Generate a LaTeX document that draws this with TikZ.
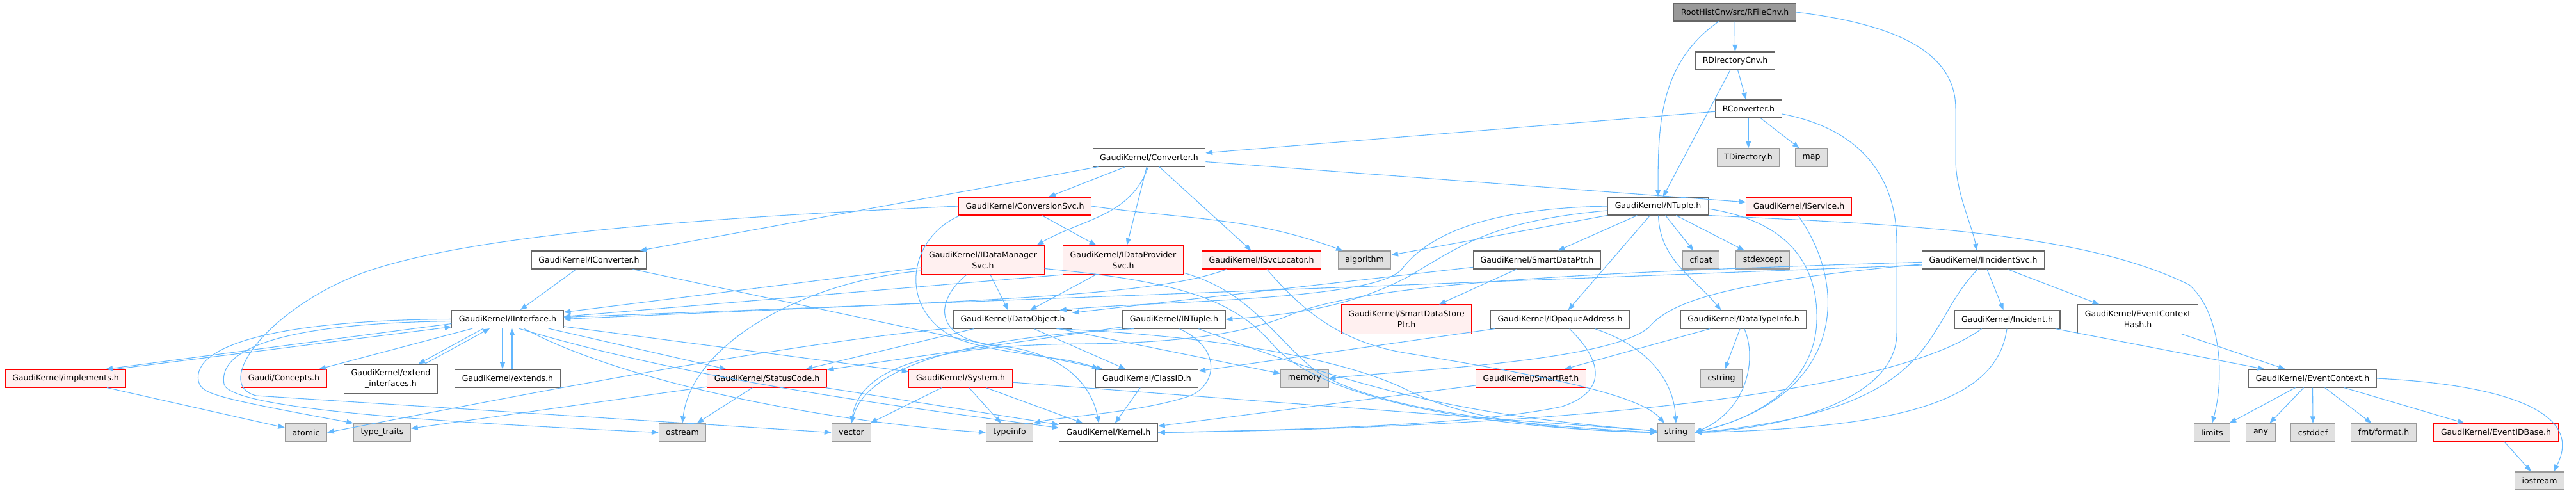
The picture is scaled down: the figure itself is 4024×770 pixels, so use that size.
\documentclass[tikz,border=0pt]{standalone}
\usepackage{fontspec}
\setmainfont{DejaVu Sans}
\usepackage{tikz}
\usetikzlibrary{arrows.meta,calc}
\definecolor{edgeblue}{HTML}{63B8FF}
\definecolor{boxgray}{HTML}{666666}
\definecolor{sysgray}{HTML}{999999}
\definecolor{sysfill}{HTML}{E0E0E0}
\definecolor{cutfill}{HTML}{FFF0F0}

\begin{document}
\begin{tikzpicture}[x=0.75pt,y=-0.75pt,>={Triangle[length=8pt,width=6pt]},
  file/.style={draw=boxgray,fill=white,line width=0.8pt,inner xsep=8.3pt,inner ysep=0pt,
    minimum height=21pt,align=center,font=\fontsize{9.4}{12.5}\selectfont},
  rootfile/.style={file,fill=sysgray},
  sysfile/.style={file,draw=sysgray,fill=sysfill},
  cutfile/.style={file,draw=red,fill=cutfill},
  twoline/.style={minimum height=33.8pt},
  dep/.style={->,draw=edgeblue,line width=0.8pt}]
 \useasboundingbox (0,0) rectangle (4024,770);

 \node[rootfile] (root) at (2710,19) {RootHistCnv/src/RFileCnv.h};
 \node[file] (rdir) at (2710.5,95) {RDirectoryCnv.h};
 \node[file] (rconv) at (2731.5,170) {RConverter.h};
 \node[sysfile] (tdir) at (2731,246) {TDirectory.h};
 \node[sysfile] (map) at (2829.5,246) {map};
 \node[file] (conv) at (1795,246) {GaudiKernel/Converter.h};
 \node[cutfile] (convsvc) at (1601,322) {GaudiKernel/ConversionSvc.h};
 \node[file] (ntuple) at (2590,322) {GaudiKernel/NTuple.h};
 \node[cutfile] (iservice) at (2810,322) {GaudiKernel/IService.h};
 \node[file] (iconverter) at (920,406) {GaudiKernel/IConverter.h};
 \node[cutfile,twoline] (idms) at (1535.5,406) {GaudiKernel/IDataManager\\Svc.h};
 \node[cutfile,twoline] (idps) at (1754.5,406) {GaudiKernel/IDataProvider\\Svc.h};
 \node[cutfile] (isvcloc) at (1970.5,406) {GaudiKernel/ISvcLocator.h};
 \node[sysfile] (algorithm) at (2131.5,406) {algorithm};
 \node[file] (sdptr) at (2401,406) {GaudiKernel/SmartDataPtr.h};
 \node[sysfile] (cfloat) at (2657,406) {cfloat};
 \node[sysfile] (stdexcept) at (2753.5,406) {stdexcept};
 \node[file] (iincsvc) at (3098,406) {GaudiKernel/IIncidentSvc.h};
 \node[file] (iinterface) at (793,498.5) {GaudiKernel/IInterface.h};
 \node[file] (dataobj) at (1582,499) {GaudiKernel/DataObject.h};
 \node[file] (intuple) at (1834,499) {GaudiKernel/INTuple.h};
 \node[cutfile,twoline] (sdsptr) at (2197,498.5) {GaudiKernel/SmartDataStore\\Ptr.h};
 \node[file] (iopaque) at (2437,499) {GaudiKernel/IOpaqueAddress.h};
 \node[file] (dtinfo) at (2723.5,499) {GaudiKernel/DataTypeInfo.h};
 \node[file] (incident) at (3135.5,499) {GaudiKernel/Incident.h};
 \node[file,twoline] (echash) at (3339.5,498.5) {GaudiKernel/EventContext\\Hash.h};
 \node[cutfile] (implements) at (102.5,591) {GaudiKernel/implements.h};
 \node[cutfile] (concepts) at (443.5,591) {Gaudi/Concepts.h};
 \node[file,twoline] (extif) at (610.5,591.5) {GaudiKernel/extend\\\_interfaces.h};
 \node[file] (extends) at (793,591) {GaudiKernel/extends.h};
 \node[cutfile] (statuscode) at (1198,591) {GaudiKernel/StatusCode.h};
 \node[cutfile] (system) at (1500.5,591) {GaudiKernel/System.h};
 \node[file] (classid) at (1791.5,591) {GaudiKernel/ClassID.h};
 \node[sysfile] (memory) at (2038,591) {memory};
 \node[cutfile] (smartref) at (2391.5,591) {GaudiKernel/SmartRef.h};
 \node[sysfile] (cstring) at (2689,591) {cstring};
 \node[file] (eventctx) at (3612.5,591) {GaudiKernel/EventContext.h};
 \node[sysfile] (atomic) at (478,675.5) {atomic};
 \node[sysfile] (typetraits) at (597,675.5) {type\_traits};
 \node[sysfile] (ostream) at (1066,675.5) {ostream};
 \node[sysfile] (vector) at (1330,675.5) {vector};
 \node[sysfile] (typeinfo) at (1577,675.5) {typeinfo};
 \node[file] (kernel) at (1731.5,675.5) {GaudiKernel/Kernel.h};
 \node[sysfile] (string) at (2618,675.5) {string};
 \node[sysfile] (limits) at (3455.5,675.5) {limits};
 \node[sysfile] (any) at (3531.5,675.5) {any};
 \node[sysfile] (cstddef) at (3613,675.5) {cstddef};
 \node[sysfile] (fmtformat) at (3723.5,675.5) {fmt/format.h};
 \node[cutfile] (eventidbase) at (3899,675.5) {GaudiKernel/EventIDBase.h};
 \node[sysfile] (iostream) at (3967,751) {iostream};

 % RFileCnv, RDirectoryCnv, RConverter
 \draw[dep] (root) -- (rdir);
 \draw[dep] (root.-150) to[out=-145,in=90] (ntuple.north);
 \draw[dep] (root.east) .. controls (2980,40) and (3055,90) .. (3055,170) -- (3055,250) .. controls (3055,300) and (3080,350) .. ($(iincsvc.north)+(-10,0)$);
 \draw[dep] (rdir) -- (rconv);
 \draw[dep] (rdir) -- (ntuple);
 \draw[dep] (rconv) -- (conv);
 \draw[dep] (rconv) -- (tdir);
 \draw[dep] (rconv) -- (map);
 \draw[dep] ($(rconv.east)+(0,8)$) .. controls (2900,200) and (2963,270) .. (2963,380) -- (2963,520) .. controls (2963,620) and (2800,668) .. (string.east);

 % Converter, ConversionSvc, IConverter
 \draw[dep] (conv) -- (iconverter);
 \draw[dep] (conv) -- (convsvc);
 \draw[dep] (conv.-95) to[out=-110,in=30] ($(idms.north east)+(-12,0)$);
 \draw[dep] (conv) -- (idps);
 \draw[dep] (conv) -- (isvcloc);
 \draw[dep] (conv) -- (iservice);
 \draw[dep] (convsvc) -- (idps);
 \draw[dep] (convsvc.east) to[out=-8,in=160] ($(algorithm.north west)+(8,0)$);
 \draw[dep] (convsvc.west) .. controls (1150,338) and (750,362) .. (570,425) .. controls (420,480) and (330,600) .. (400,618) -- (vector.west);
 \draw[dep] ($(convsvc.south west)+(3,0)$) .. controls (1420,370) and (1400,480) .. (1490,527) .. controls (1560,555) and (1660,555) .. ($(classid.north west)+(6,0)$);
 \draw[dep] (iconverter) -- (iinterface);
 \draw[dep] (iconverter) -- (classid);

 % data services
 \draw[dep] (idms) -- (dataobj);
 \draw[dep] (idms) -- (iinterface);
 \draw[dep] (idms.-170) .. controls (1250,440) and (1080,540) .. (ostream.north);
 \draw[dep] (idms.-138) .. controls (1460,470) and (1455,530) .. (1560,540) .. controls (1660,550) and (1705,600) .. ($(kernel.north)+(-15,0)$);
 \draw[dep] (idms.-8) .. controls (1850,440) and (1930,470) .. (1990,540) .. controls (2080,640) and (2400,672) .. (string.west);
 \draw[dep] (idps) -- (dataobj);
 \draw[dep] (idps.south west) -- ($(iinterface.east)+(0,-4)$);
 \draw[dep] (idps.-12) .. controls (1950,455) and (1985,520) .. (2050,575) .. controls (2150,650) and (2450,668) .. (string.west);
 \draw[dep] (isvcloc.-165) .. controls (1800,465) and (1500,470) .. (iinterface.east);
 \draw[dep] (isvcloc.-60) .. controls (2030,480) and (2090,535) .. (2200,552) .. controls (2400,585) and (2560,615) .. ($(string.north)+(-18,0)$);

 % NTuple
 \draw[dep] (ntuple) -- (algorithm);
 \draw[dep] (ntuple.west) .. controls (2350,325) and (2240,355) .. (2190,420) .. controls (2150,470) and (1800,470) .. ($(dataobj.north east)+(-20,0)$);
 \draw[dep] (ntuple.-175) .. controls (2330,345) and (2280,385) .. (2200,432) .. controls (2100,485) and (2000,492) .. (intuple.east);
 \draw[dep] (ntuple) -- (sdptr);
 \draw[dep] (ntuple) -- (iopaque);
 \draw[dep] (ntuple.-88) to[out=-88,in=130] ($(dtinfo.north)+(-35,0)$);
 \draw[dep] (ntuple) -- (cfloat);
 \draw[dep] (ntuple) -- (stdexcept);
 \draw[dep] (ntuple.south east) .. controls (2950,350) and (3250,360) .. (3420,445) .. controls (3470,490) and (3475,590) .. (limits.north);
 \draw[dep] (ntuple.-3) .. controls (2790,345) and (2840,410) .. (2838,500) .. controls (2836,590) and (2760,650) .. (string.east);
 \draw[dep] (iservice.-95) .. controls (2890,450) and (2880,620) .. (string.east);

 % IIncidentSvc and EventContext
 \draw[dep] (iincsvc) -- (incident);
 \draw[dep] (iincsvc) -- (echash);
 \draw[dep] (iincsvc.-120) .. controls (3000,510) and (3040,640) .. (string.east);
 \draw[dep] ($(iincsvc.west)+(0,8)$) -- ($(iinterface.east)+(0,-3)$);
 \draw[dep] (iincsvc.-176) .. controls (2700,440) and (2610,470) .. (2575,512) .. controls (2510,565) and (2200,578) .. (memory.east);
 \draw[dep] (iincsvc.-178) .. controls (2500,425) and (2150,440) .. (2020,490) .. controls (1950,520) and (1850,535) .. (1700,537) .. controls (1500,538) and (1345,560) .. (vector.north);
 \draw[dep] (incident) -- (eventctx);
 \draw[dep] (incident.-92) .. controls (3120,620) and (2990,668) .. (string.east);
 \draw[dep] (incident.-160) .. controls (2950,620) and (2400,668) .. (kernel.east);
 \draw[dep] (echash) -- (eventctx);
 \draw[dep] (eventctx) -- (limits);
 \draw[dep] (eventctx) -- (any);
 \draw[dep] (eventctx) -- (cstddef);
 \draw[dep] (eventctx) -- (fmtformat);
 \draw[dep] (eventctx) -- (eventidbase);
 \draw[dep] (eventctx.east) .. controls (3900,600) and (4040,640) .. ($(iostream.north)+(22,0)$);
 \draw[dep] (eventidbase) -- (iostream);

 % DataTypeInfo, IOpaqueAddress, SmartDataPtr
 \draw[dep] (dtinfo) -- (smartref);
 \draw[dep] (dtinfo) -- (cstring);
 \draw[dep] (dtinfo.-85) .. controls (2745,560) and (2730,640) .. (string.east);
 \draw[dep] (iopaque) -- (classid);
 \draw[dep] (iopaque.-45) .. controls (2500,560) and (2515,610) .. (2440,635) .. controls (2300,665) and (2000,672) .. (kernel.east);
 \draw[dep] (iopaque.-15) .. controls (2570,540) and (2614,590) .. (string.north);
 \draw[dep] (sdptr) -- (sdsptr);
 \draw[dep] (sdptr) -- (dataobj);
 \draw[dep] (smartref) -- (kernel);

 % IInterface
 \draw[dep] ($(iinterface.west)+(0,7)$) -- ($(implements.north east)+(-32,0)$);
 \draw[dep] ($(implements.north east)+(-17,0)$) -- ($(iinterface.west)+(0,12)$);
 \draw[dep] ($(iinterface.south)+(-38,0)$) -- ($(extif.north)+(43,0)$);
 \draw[dep] ($(extif.north)+(53,0)$) -- ($(iinterface.south)+(-28,0)$);
 \draw[dep] ($(iinterface.south)+(-8,0)$) -- ($(extends.north)+(-8,0)$);
 \draw[dep] ($(extends.north)+(7,0)$) -- ($(iinterface.south)+(7,0)$);
 \draw[dep] (iinterface) -- (concepts);
 \draw[dep] (iinterface.west) .. controls (430,500) and (300,540) .. (310,595) .. controls (315,615) and (330,620) .. (typetraits.north west);
 \draw[dep] (iinterface.-178) .. controls (440,505) and (340,545) .. (350,600) .. controls (360,640) and (700,660) .. (ostream.west);
 \draw[dep] (iinterface) -- (statuscode);
 \draw[dep] (iinterface) -- (system);
 \draw[dep] (iinterface.-30) .. controls (980,600) and (1300,660) .. (typeinfo.west);
 \draw[dep] (iinterface.-40) .. controls (1100,600) and (1450,640) .. ($(kernel.west)+(0,-7)$);
 \draw[dep] (implements) -- (atomic);

 % StatusCode, System, ClassID, DataObject, INTuple
 \draw[dep] (statuscode) -- (ostream);
 \draw[dep] (statuscode) -- (typetraits);
 \draw[dep] (statuscode) -- (kernel);
 \draw[dep] (system) -- (vector);
 \draw[dep] (system) -- (typeinfo);
 \draw[dep] (system) -- (kernel);
 \draw[dep] (system) -- (string);
 \draw[dep] (classid) -- (kernel);
 \draw[dep] (dataobj) -- (classid);
 \draw[dep] (dataobj) -- (statuscode);
 \draw[dep] (dataobj.-172) .. controls (1200,540) and (800,620) .. (atomic.east);
 \draw[dep] (dataobj) -- (memory);
 \draw[dep] (dataobj.-12) .. controls (1900,525) and (2100,560) .. (2200,610) .. controls (2300,660) and (2450,672) .. (string.west);
 \draw[dep] (intuple) -- (statuscode);
 \draw[dep] (intuple.-167) .. controls (1600,522) and (1360,550) .. (vector.north);
 \draw[dep] (intuple.-60) .. controls (1910,545) and (1900,600) .. (1860,618) .. controls (1780,645) and (1660,650) .. (typeinfo.north east);
 \draw[dep] (intuple) to[bend right=8] (string);
\end{tikzpicture}
\end{document}
